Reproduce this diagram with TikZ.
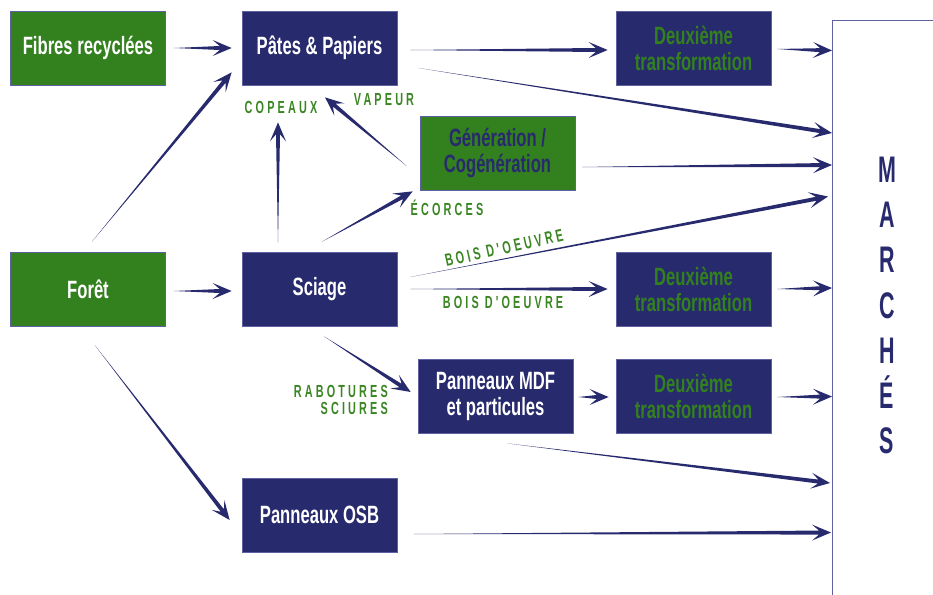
\documentclass[tikz,border=0pt]{standalone}
\usepackage{fontspec}
\setmainfont{Liberation Sans}
\newfontfamily\boxfont{Liberation Sans}[FakeStretch=0.665]
\newfontfamily\lblfont{Liberation Sans}[FakeStretch=0.62,LetterSpace=18]
\newfontfamily\mfont{Liberation Sans}[FakeStretch=0.58]
\usetikzlibrary{calc}
\definecolor{navy}{RGB}{40,42,110}
\definecolor{leaf}{RGB}{51,128,30}
\definecolor{lbl}{RGB}{58,134,34}
\definecolor{edge}{RGB}{95,97,160}
\newcommand\conn[2]{%
  \coordinate (cs) at (#1);
  \coordinate (ce) at (#2);
  \coordinate (ch) at ($(ce)!19pt!(cs)$);
  \coordinate (cn) at ($(ce)!12pt!(cs)$);
  \fill[navy] (cs) -- ($(cn)!2pt!90:(ce)$) -- ($(ch)!8pt!90:(ce)$) -- (ce)
    -- ($(ch)!8pt!-90:(ce)$) -- ($(cn)!2pt!-90:(ce)$) -- cycle;
}
\tikzset{
  box/.style={minimum width=155pt, minimum height=74pt, inner sep=0pt, align=center,
    draw=edge, line width=0.7pt, font=\boxfont\bfseries\fontsize{25}{26}\selectfont},
  navybox/.style={box, fill=navy, text=white},
  greenbox/.style={box, fill=leaf, text=white},
  genbox/.style={box, fill=leaf, text=navy},
  deuxbox/.style={box, fill=navy, text=leaf},
  lab/.style={text=lbl, font=\lblfont\bfseries\fontsize{17.5}{20}\selectfont, inner sep=0pt},
  mlet/.style={text=navy, font=\mfont\bfseries\fontsize{37}{40}\selectfont, inner sep=0pt, anchor=base},
}
\begin{document}
\begin{tikzpicture}[x=1pt,y=-1pt]
\useasboundingbox (0,0) rectangle (933,594);
\node[greenbox] (fibres) at (88,48) {Fibres recyclées};
\node[navybox] (pates) at (319.5,48) {Pâtes \& Papiers};
\node[deuxbox] (deuxa) at (693.5,48) {Deuxième\\transformation};
\node[genbox] (gen) at (497.5,153) {Génération /\\Cogénération};
\node[greenbox] (foret) at (88,289) {Forêt};
\node[navybox] (sciage) at (319.5,289) {Sciage};
\node[deuxbox] (deuxb) at (693.5,289) {Deuxième\\transformation};
\node[navybox] (mdf) at (495.5,396) {Panneaux MDF\\et particules};
\node[deuxbox] (deuxc) at (693.5,396) {Deuxième\\transformation};
\node[navybox] (osb) at (319.5,515) {Panneaux OSB};
\node[anchor=north west, minimum width=102pt, minimum height=580pt, inner sep=0pt] (marches) at (832,20.5) {};
\draw[edge, line width=1pt] (marches.south west) -- (marches.north west) -- (marches.north east);
\foreach \l/\y [count=\i] in {M/182,A/227,R/272,C/318,H/363,É/408,S/453}
  \node[mlet] (m\i) at (887,\y) {\l};
% labels
\node[lab, anchor=base] (copeaux) at (281,113) {COPEAUX};
\node[lab, anchor=base] (vapeur) at (384,105) {VAPEUR};
\node[lab, anchor=base] (ecorces) at (447,215) {ÉCORCES};
\node[lab, rotate=12.5] (boisa) at (504,248) {BOIS D'OEUVRE};
\node[lab, anchor=base] (boisb) at (503,308) {BOIS D'OEUVRE};
\node[lab, anchor=base east] (rabot) at (388,397) {RABOTURES};
\node[lab, anchor=base east] (sciures) at (388,414) {SCIURES};
% connectors
\conn{$(fibres.east)+(8,0)$}{$(pates.west)+(-10,0)$}
\conn{$(foret.north)+(4,-10)$}{$(pates.south west)+(-10,-13)$}
\conn{$(sciage.north)+(-41.5,-9)$}{$(pates.south)+(-41.5,37)$}
\conn{$(gen.west)+(-13,13)$}{$(pates.south)+(5.5,12)$}
\conn{$(sciage.north)+(2.5,-10)$}{$(gen.south west)+(-7,1)$}
\conn{$(pates.east)+(13,2)$}{$(deuxa.west)+(-8,2)$}
\conn{$(deuxa.east)+(6,1)$}{$(marches.north west)+(0,30)$}
\conn{$(pates.east)+(21,20)$}{$(marches.north west)+(0,112.5)$}
\conn{$(gen.east)+(7,14)$}{$(marches.north west)+(0,144.5)$}
\conn{$(sciage.east)+(13,-12)$}{$(marches.north west)+(-4,176)$}
\conn{$(sciage.east)+(13,0)$}{$(deuxb.west)+(-8,0)$}
\conn{$(deuxb.east)+(6,0)$}{$(marches.north west)+(0,267.5)$}
\conn{$(foret.east)+(8,2)$}{$(sciage.west)+(-10,2)$}
\conn{$(sciage.south)+(4.5,10)$}{$(mdf.west)+(-7,-4)$}
\conn{$(mdf.east)+(5,1)$}{$(deuxc.west)+(-7,1)$}
\conn{$(deuxc.east)+(6,1)$}{$(marches.north west)+(0,376)$}
\conn{$(mdf.south)+(11.5,10)$}{$(marches.north west)+(-2,462.5)$}
\conn{$(foret.south)+(7,19)$}{$(osb.west)+(-12,5)$}
\conn{$(osb.east)+(16,19)$}{$(marches.north west)+(-1,512)$}
\end{tikzpicture}
\end{document}
